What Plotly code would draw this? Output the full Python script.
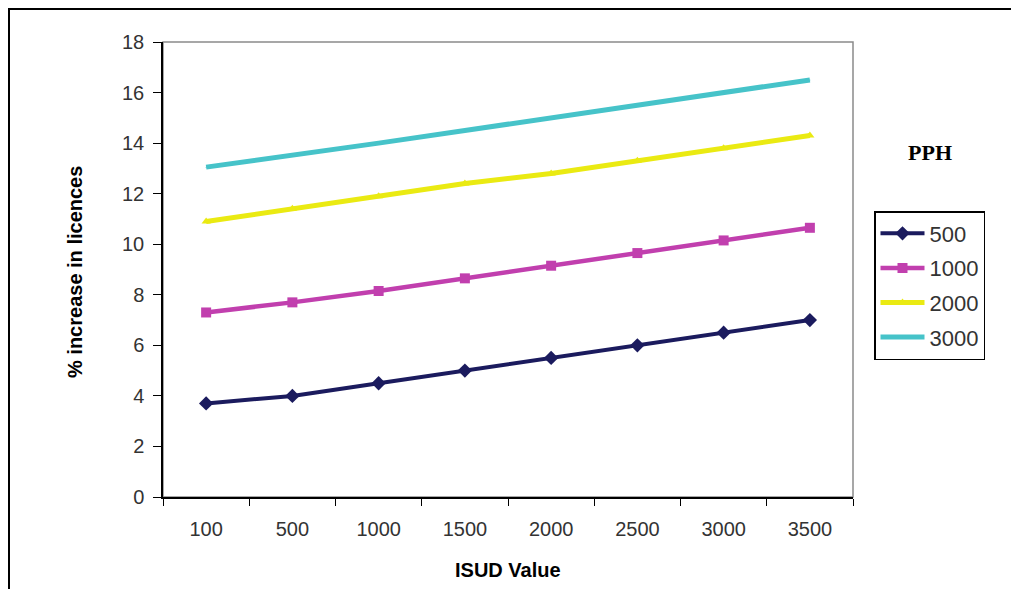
import plotly.graph_objects as go

# ---- data ----
isud_values = ["100", "500", "1000", "1500", "2000", "2500", "3000", "3500"]
pph_500 = [3.7, 4.0, 4.5, 5.0, 5.5, 6.0, 6.5, 7.0]
pph_1000 = [7.3, 7.7, 8.15, 8.65, 9.15, 9.65, 10.15, 10.65]
pph_2000 = [10.9, 11.4, 11.9, 12.4, 12.8, 13.3, 13.8, 14.3]
pph_3000 = [13.05, 13.5, 14.0, 14.5, 15.0, 15.5, 16.0, 16.5]
series_names = ["500", "1000", "2000", "3000"]
y_ticks = [0, 2, 4, 6, 8, 10, 12, 14, 16, 18]

# ---- layout constants (pixels) ----
W, H = 1011, 589
L, R, T, B = 163, 853, 42, 497
pw, ph = R - L, B - T

def px(x):
    return (x - L) / pw

def py(y):
    return (B - y) / ph

colors = ["#1b1b5e", "#c13fae", "#eaea12", "#46c3c9"]
markers = [dict(symbol="diamond", size=11), dict(symbol="square", size=10),
           dict(symbol="triangle-up", size=8), dict(symbol="circle", size=1)]
widths = [4, 4.5, 5, 5]
values = [pph_500, pph_1000, pph_2000, pph_3000]

fig = go.Figure()
for name, vals, c, m, w in zip(series_names, values, colors, markers, widths):
    fig.add_trace(go.Scatter(
        x=isud_values, y=vals, name=name, mode="lines+markers",
        line=dict(color=c, width=w), marker=dict(color=c, **m),
        legendgroup=name,
    ))

tick_font = dict(family="Liberation Sans, Arial", size=20, color="#333333")

fig.update_layout(
    width=W, height=H,
    margin=dict(l=L, r=W - R, t=T, b=H - B, pad=0),
    paper_bgcolor="white", plot_bgcolor="white",
    showlegend=True,
    legend=dict(
        x=px(874), y=py(211), xanchor="left", yanchor="top",
        bordercolor="black", borderwidth=1.5, bgcolor="white",
        font=dict(family="Liberation Sans, Arial", size=22, color="#333333"),
        tracegroupgap=3, traceorder="grouped", itemwidth=44,
    ),
    xaxis=dict(
        type="category", range=[-0.5, 7.5], tickson="boundaries",
        ticks="outside", ticklen=7, tickcolor="black",
        showline=True, linecolor="black", linewidth=1.5,
        showgrid=False, zeroline=False, tickfont=tick_font,
        ticklabelstandoff=13,
    ),
    yaxis=dict(
        range=[0, 18], tickvals=y_ticks, ticks="outside", ticklen=8,
        tickcolor="black", showline=True, linecolor="black", linewidth=1.5,
        showgrid=False, zeroline=False, tickfont=tick_font,
        ticklabelstandoff=5,
    ),
    shapes=[
        dict(type="rect", xref="paper", yref="paper", x0=0, y0=0, x1=1, y1=1,
             line=dict(color="#8a8a8a", width=1.5), layer="below"),
        dict(type="rect", xref="paper", yref="paper",
             x0=px(9), y0=py(600), x1=px(1030), y1=py(9),
             line=dict(color="black", width=2), layer="below"),
    ],
    annotations=[
        dict(text="<b>ISUD Value</b>", xref="paper", yref="paper",
             x=0.5, y=py(570), showarrow=False, xanchor="center", yanchor="middle",
             font=dict(family="Liberation Sans, Arial", size=20, color="black")),
        dict(text="<b>% increase in licences</b>", xref="paper", yref="paper",
             x=px(75), y=py(272), showarrow=False, textangle=-90,
             xanchor="center", yanchor="middle",
             font=dict(family="Liberation Sans, Arial", size=20, color="black")),
        dict(text="<b>PPH</b>", xref="paper", yref="paper",
             x=px(930), y=py(152), showarrow=False, xanchor="center", yanchor="middle",
             font=dict(family="Liberation Serif, Times New Roman", size=22, color="black")),
    ],
)

fig.write_html("out.html")
